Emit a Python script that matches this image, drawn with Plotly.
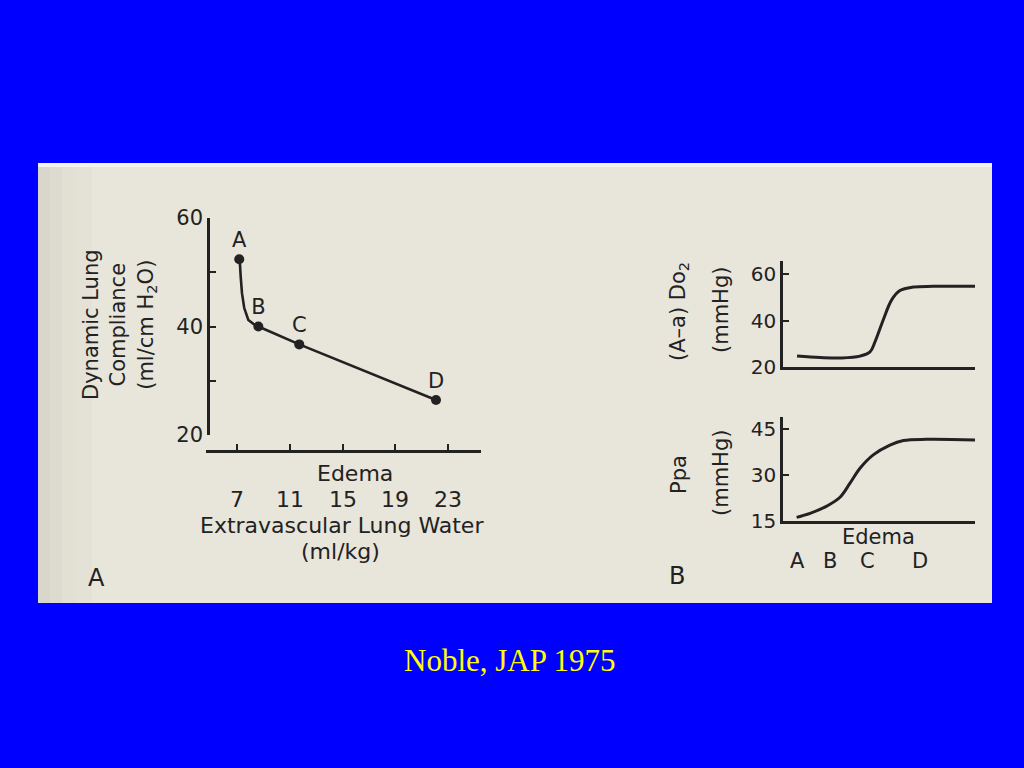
import plotly.graph_objects as go

# ---------------- data ----------------
# Panel A: dynamic lung compliance vs extravascular lung water
point_labels = ["A", "B", "C", "D"]
evlw_points = [7.17, 8.62, 11.72, 22.09]
compliance_points = [52.4, 40.0, 36.7, 26.45]
# traced curve through the points
curve_evlw = [7.17, 7.23, 7.28, 7.38, 7.55, 7.86, 8.24, 8.62, 11.72, 22.09]
curve_compliance = [52.4, 51.3, 49.2, 46.1, 43.4, 41.2, 40.5, 40.0, 36.7, 26.45]
evlw_ticks = [7, 11, 15, 19, 23]
compliance_ticks = [20, 40, 60]
compliance_minor = [30, 50]

# Panel B: edema stage axis (arbitrary position units 0..10)
stage_labels = ["A", "B", "C", "D"]
stage_pos = [0.77, 2.45, 4.39, 7.14]
# (A-a) DO2 curve
aado2_x = [0.73, 1.93, 3.06, 4.01, 4.53, 4.79, 5.22, 5.66, 6.09, 6.79, 7.83, 10.0]
aado2_y = [24.8, 24.2, 24.0, 24.8, 26.6, 30.9, 40.3, 48.9, 52.9, 54.4, 54.7, 54.7]
aado2_ticks = [20, 40, 60]
# Ppa curve
ppa_x = [0.71, 1.41, 2.28, 2.97, 3.49, 4.01, 4.70, 5.57, 6.27, 7.48, 10.0]
ppa_y = [16.1, 17.4, 19.8, 22.7, 27.3, 32.2, 36.6, 39.8, 41.3, 41.7, 41.5]
ppa_ticks = [15, 30, 45]

# ---------------- helpers ----------------
W, H = 1024, 768
def px(x):
    return x / W
def py(y):
    return 1 - y / H

INK = "#222222"
FONT = "DejaVu Sans"
PAGE = "#e8e5da"

fig = go.Figure()

# Panel A traces
fig.add_trace(go.Scatter(x=curve_evlw, y=curve_compliance, mode="lines",
                         line=dict(color=INK, width=2.6), xaxis="x", yaxis="y",
                         hoverinfo="skip"))
fig.add_trace(go.Scatter(x=evlw_points, y=compliance_points, mode="markers+text",
                         marker=dict(color=INK, size=10),
                         text=point_labels, textposition="top center",
                         textfont=dict(family=FONT, size=21, color=INK),
                         xaxis="x", yaxis="y"))
# Panel B traces
fig.add_trace(go.Scatter(x=aado2_x, y=aado2_y, mode="lines", line_shape="spline",
                         line=dict(color=INK, width=3), xaxis="x2", yaxis="y2"))
fig.add_trace(go.Scatter(x=ppa_x, y=ppa_y, mode="lines", line_shape="spline",
                         line=dict(color=INK, width=3), xaxis="x3", yaxis="y3"))

axis_common = dict(showgrid=False, zeroline=False, showline=True, linecolor=INK,
                   linewidth=2.5, tickcolor=INK, tickwidth=2, ticklen=6,
                   automargin=False,
                   tickfont=dict(family=FONT, size=21, color=INK))

xa_lo = 7 - (237 - 206) / 13.1875
xa_hi = 23 + (481 - 448) / 13.1875
fig.update_layout(
    xaxis=dict(axis_common, domain=[px(206), px(481)], range=[xa_lo, xa_hi],
               anchor="free", position=py(451), tickvals=evlw_ticks, ticks="inside",
               showticklabels=False),
    yaxis=dict(axis_common, domain=[py(435), py(218)], range=[20, 60],
               anchor="free", position=px(208), tickvals=compliance_ticks,
               ticks="inside",
               minor=dict(tickvals=compliance_minor, ticks="inside", ticklen=6,
                          tickwidth=2, tickcolor=INK, showgrid=False)),
    xaxis2=dict(axis_common, domain=[px(783), px(975)], range=[0, 10],
                anchor="y2", ticks="", showticklabels=False),
    yaxis2=dict(axis_common, domain=[py(367.3), py(261)],
                range=[20, 20 + (367.3 - 261) / 2.333], anchor="x2",
                tickvals=aado2_ticks, ticks="inside",
                tickfont=dict(family=FONT, size=20, color=INK)),
    xaxis3=dict(axis_common, domain=[px(783), px(975)], range=[0, 10],
                anchor="y3", ticks="", showticklabels=False),
    yaxis3=dict(axis_common, domain=[py(520.7), py(416.7)],
                range=[15, 15 + (520.7 - 416.7) / 3.047], anchor="x3",
                tickvals=ppa_ticks, ticks="inside",
                tickfont=dict(family=FONT, size=20, color=INK)),
)

# page background
shapes = [
    dict(type="rect", xref="paper", yref="paper", x0=px(38), x1=px(992), y0=py(603), y1=py(163),
         fillcolor=PAGE, line=dict(width=0), layer="below"),
]
for x0, x1, op in [(38, 50, 0.10), (50, 62, 0.07), (62, 76, 0.045), (76, 92, 0.025)]:
    shapes.append(dict(type="rect", xref="paper", yref="paper", x0=px(x0), x1=px(x1),
                       y0=py(603), y1=py(163), fillcolor="#5a5a50", opacity=op,
                       line=dict(width=0), layer="below"))
shapes.append(dict(type="rect", xref="paper", yref="paper", x0=px(38), x1=px(992), y0=py(167), y1=py(163),
                   fillcolor="#f4f2ee", line=dict(width=0), layer="below"))
fig.update_layout(shapes=shapes)

ann = []
def txt(x, y, s, size=21, angle=0, color=INK, family=FONT, xanchor="center"):
    ann.append(dict(x=px(x), y=py(y), xref="paper", yref="paper", text=s, showarrow=False,
                    textangle=angle, xanchor=xanchor, yanchor="middle",
                    font=dict(family=family, size=size, color=color)))

# Panel A labels
txt(120, 325, "Dynamic Lung<br>Compliance<br>(ml/cm H<sub>2</sub>O)", angle=-90)
txt(355, 473, "Edema", size=22)
for v in evlw_ticks:
    ann.append(dict(x=v, y=py(499), xref="x", yref="paper", text=str(v), showarrow=False,
                    xanchor="center", yanchor="middle",
                    font=dict(family=FONT, size=22, color=INK)))
txt(342, 525, "Extravascular Lung Water", size=22)
txt(340, 551, "(ml/kg)", size=22)
txt(96, 578, "A", size=24)

# Panel B labels
txt(679, 312, "(A–a) Do<sub>2</sub>", angle=-90)
txt(721, 310, "(mmHg)", angle=-90)
txt(679, 475, "Ppa", angle=-90)
txt(721, 473, "(mmHg)", angle=-90)
txt(878, 537, "Edema", size=21)
for lab, pos in zip(stage_labels, stage_pos):
    ann.append(dict(x=pos, y=py(561), xref="x3", yref="paper", text=lab, showarrow=False,
                    xanchor="center", yanchor="middle",
                    font=dict(family=FONT, size=21, color=INK)))
txt(677, 576, "B", size=24)

# caption
txt(510, 660, "Noble, JAP 1975", size=31, color="#ffff00", family="Liberation Serif")

fig.update_layout(annotations=ann, width=W, height=H,
                  margin=dict(l=0, r=0, t=0, b=0, pad=0, autoexpand=False),
                  paper_bgcolor="#0000ff", plot_bgcolor="rgba(0,0,0,0)", showlegend=False)

fig.write_html(
    "out.html",
    config={"displayModeBar": False},
    post_script="document.body.style.margin='0';document.body.style.overflow='hidden';",
)
